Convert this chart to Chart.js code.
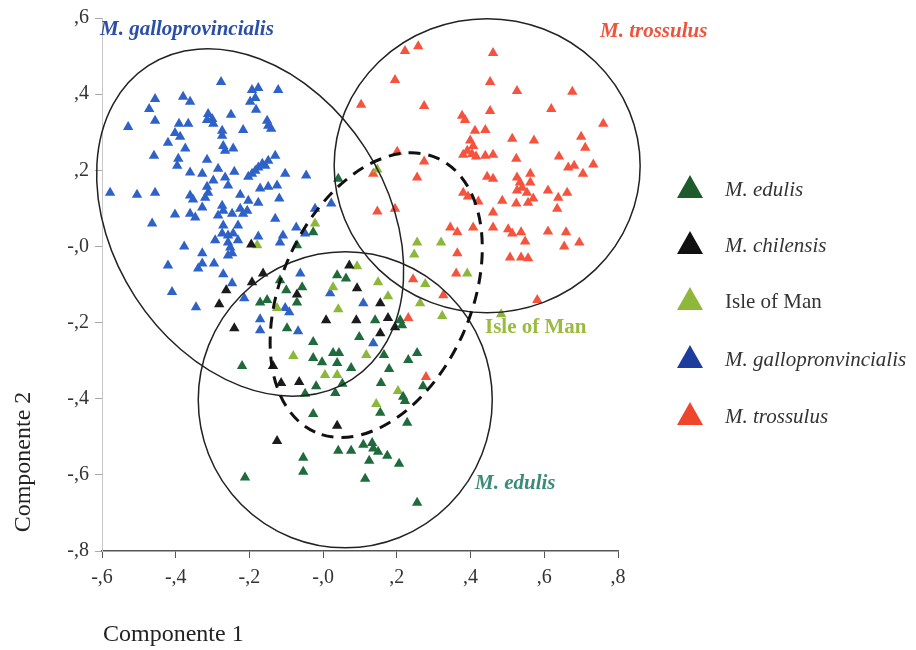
<!DOCTYPE html>
<html>
<head>
<meta charset="utf-8">
<script src="https://cdn.jsdelivr.net/npm/chart.js@4.4.0/dist/chart.umd.min.js"></script>
<style>
  body { margin: 0; background: #fff; }
  #wrap { width: 916px; height: 650px; }
</style>
</head>
<body>
<div id="wrap"><canvas id="pcaChart" width="916" height="650"></canvas></div>
<script>
// series names (legend order)
var seriesNames = ['M. edulis', 'M. chilensis', 'Isle of Man', 'M. gallopronvincialis', 'M. trossulus'];
var pointColors = ['#1f6b3c', '#1b1b1b', '#8cb83a', '#2e62c8', '#f5533d'];
var legendColors = ['#1d5a2c', '#111111', '#8fb83b', '#1e3c9c', '#f0452d'];

var xTicks = [-0.6, -0.4, -0.2, 0, 0.2, 0.4, 0.6, 0.8];
var yTicks = [-0.8, -0.6, -0.4, -0.2, 0, 0.2, 0.4, 0.6];

// M. edulis  [componente 1, componente 2]
var edulis = [
  [0.041,0.178],[-0.027,0.037],[-0.071,0.003],[-0.117,-0.089],[-0.100,-0.115],[0.038,-0.076],
  [0.062,-0.084],[-0.057,-0.107],[-0.071,-0.147],[-0.171,-0.147],[-0.152,-0.141],[-0.098,-0.215],
  [-0.027,-0.251],[-0.220,-0.314],[0.098,-0.238],[0.141,-0.194],[0.209,-0.194],[0.214,-0.207],
  [0.027,-0.280],[0.043,-0.280],[-0.027,-0.293],[-0.003,-0.304],[0.038,-0.306],[0.076,-0.319],
  [0.165,-0.285],[0.179,-0.322],[0.255,-0.280],[0.231,-0.298],[0.157,-0.359],[0.052,-0.361],
  [-0.019,-0.367],[-0.049,-0.387],[0.033,-0.385],[0.217,-0.395],[0.222,-0.406],[0.271,-0.367],
  [-0.027,-0.440],[0.155,-0.437],[0.228,-0.463],[0.041,-0.537],[0.076,-0.537],[0.109,-0.521],
  [0.133,-0.516],[0.136,-0.531],[0.149,-0.539],[0.174,-0.550],[0.125,-0.563],[0.206,-0.571],
  [0.114,-0.610],[-0.054,-0.555],[-0.054,-0.592],[-0.212,-0.607],[0.255,-0.673]
];

// M. chilensis
var chilensis = [
  [-0.195,0.005],[-0.193,-0.094],[-0.263,-0.115],[-0.282,-0.152],[-0.241,-0.215],[-0.163,-0.071],
  [0.071,-0.050],[0.092,-0.110],[-0.071,-0.126],[0.155,-0.149],[0.008,-0.194],[0.090,-0.194],
  [0.176,-0.188],[0.155,-0.228],[0.195,-0.212],[-0.136,-0.314],[-0.114,-0.359],[-0.065,-0.356],
  [0.038,-0.471],[-0.125,-0.511]
];

// Isle of Man
var isleOfMan = [
  [0.147,0.202],[0.255,0.010],[0.320,0.010],[0.247,-0.021],[-0.179,0.003],[0.092,-0.052],
  [0.149,-0.094],[0.277,-0.099],[0.391,-0.071],[0.176,-0.131],[0.263,-0.149],[0.323,-0.183],
  [0.041,-0.165],[0.027,-0.107],[-0.125,-0.162],[-0.081,-0.288],[0.117,-0.285],[0.005,-0.338],
  [0.038,-0.338],[0.144,-0.414],[0.203,-0.380],[0.483,-0.178],[-0.022,0.060]
];

// M. galloprovincialis
var galloprovincialis = [
  [-0.277,0.432],[-0.193,0.411],[-0.176,0.416],[-0.184,0.390],[-0.198,0.380],[-0.122,0.411],
  [-0.456,0.387],[-0.380,0.393],[-0.361,0.380],[-0.472,0.361],[-0.182,0.359],[-0.312,0.348],
  [-0.301,0.335],[-0.315,0.332],[-0.298,0.322],[-0.250,0.346],[-0.456,0.330],[-0.529,0.314],
  [-0.391,0.322],[-0.366,0.322],[-0.152,0.330],[-0.149,0.317],[-0.141,0.309],[-0.217,0.306],
  [-0.402,0.298],[-0.388,0.288],[-0.274,0.304],[-0.274,0.291],[-0.421,0.272],[-0.271,0.264],
  [-0.266,0.251],[-0.244,0.257],[-0.374,0.257],[-0.459,0.238],[-0.130,0.238],[-0.149,0.225],
  [-0.165,0.217],[-0.176,0.207],[-0.184,0.199],[-0.193,0.191],[-0.203,0.183],[-0.157,0.212],
  [-0.393,0.230],[-0.396,0.212],[-0.315,0.228],[-0.361,0.194],[-0.328,0.191],[-0.285,0.204],
  [-0.266,0.181],[-0.241,0.196],[-0.103,0.191],[-0.046,0.186],[-0.298,0.173],[-0.258,0.160],
  [-0.315,0.157],[-0.312,0.141],[-0.320,0.128],[-0.578,0.141],[-0.505,0.136],[-0.456,0.141],
  [-0.171,0.152],[-0.149,0.157],[-0.125,0.160],[-0.225,0.136],[-0.361,0.134],[-0.353,0.123],
  [-0.203,0.120],[-0.176,0.115],[-0.119,0.126],[-0.328,0.102],[-0.274,0.107],[-0.271,0.094],
  [-0.225,0.099],[-0.206,0.094],[-0.217,0.086],[-0.247,0.086],[-0.402,0.084],[-0.361,0.086],
  [-0.347,0.076],[-0.285,0.081],[-0.130,0.073],[-0.464,0.060],[-0.271,0.055],[-0.231,0.055],
  [-0.274,0.034],[-0.258,0.029],[-0.244,0.034],[-0.293,0.016],[-0.231,0.016],[-0.258,0.010],
  [-0.176,0.026],[-0.109,0.029],[-0.117,0.010],[-0.073,0.050],[-0.022,0.099],[0.022,0.113],
  [-0.049,0.034],[-0.377,0.000],[-0.328,-0.018],[-0.252,-0.003],[-0.247,-0.018],[-0.421,-0.050],
  [-0.328,-0.045],[-0.339,-0.058],[-0.296,-0.045],[-0.271,-0.073],[-0.247,-0.097],[-0.410,-0.120],
  [-0.345,-0.160],[-0.214,-0.136],[-0.258,-0.024],[-0.171,-0.191],[-0.171,-0.220],[-0.103,-0.162],
  [-0.092,-0.173],[-0.062,-0.071],[-0.068,-0.223],[0.019,-0.123],[0.109,-0.149],[0.136,-0.254]
];

// M. trossulus
var trossulus = [
  [0.222,0.513],[0.258,0.526],[0.461,0.508],[0.195,0.437],[0.453,0.432],[0.526,0.408],
  [0.676,0.406],[0.103,0.372],[0.274,0.369],[0.453,0.356],[0.619,0.361],[0.760,0.322],
  [0.377,0.343],[0.385,0.332],[0.412,0.304],[0.440,0.306],[0.513,0.283],[0.572,0.278],
  [0.700,0.288],[0.711,0.259],[0.399,0.278],[0.391,0.251],[0.407,0.264],[0.404,0.243],
  [0.380,0.241],[0.415,0.236],[0.440,0.238],[0.461,0.241],[0.524,0.230],[0.640,0.236],
  [0.665,0.207],[0.681,0.212],[0.733,0.215],[0.705,0.191],[0.445,0.183],[0.461,0.178],
  [0.526,0.181],[0.534,0.168],[0.562,0.191],[0.540,0.154],[0.562,0.168],[0.526,0.147],
  [0.553,0.141],[0.570,0.126],[0.556,0.115],[0.610,0.147],[0.662,0.141],[0.638,0.128],
  [0.635,0.099],[0.380,0.141],[0.393,0.131],[0.421,0.118],[0.486,0.120],[0.524,0.113],
  [0.461,0.089],[0.201,0.249],[0.274,0.223],[0.255,0.181],[0.136,0.191],[0.195,0.099],
  [0.147,0.092],[0.345,0.050],[0.364,0.037],[0.407,0.050],[0.461,0.050],[0.502,0.045],
  [0.513,0.034],[0.537,0.037],[0.548,0.013],[0.610,0.039],[0.659,0.037],[0.654,0.000],
  [0.695,0.010],[0.364,-0.018],[0.507,-0.029],[0.537,-0.029],[0.556,-0.031],[0.361,-0.071],
  [0.244,-0.086],[0.326,-0.128],[0.231,-0.188],[0.581,-0.141],[0.279,-0.343]
];

var allSeries = [edulis, chilensis, isleOfMan, galloprovincialis, trossulus];

// group ellipses: centre in data units, semi axes in px, rotation in degrees
var ellipses = [
  { cx: -0.198, cy: 0.063, a: 187, b: 137, rot: 57, dashed: false },
  { cx: 0.445, cy: 0.212, a: 153, b: 147, rot: 0, dashed: false },
  { cx: 0.060, cy: -0.403, a: 147, b: 148, rot: 0, dashed: false },
  { cx: 0.144, cy: -0.128, a: 150, b: 95, rot: 114, dashed: true }
];

function tickFmt(v) {
  var d = Math.round(Math.abs(v) * 10);
  return (v <= 0.0001 ? '-' : '') + ',' + d;
}

var serif = "'Liberation Serif', 'Times New Roman', serif";

const decorPlugin = {
  id: 'decor',
  afterDatasetsDraw(chart) {
    const ctx = chart.ctx;
    const xs = chart.scales.x, ys = chart.scales.y;
    ctx.save();
    // ellipses
    ellipses.forEach(function (e) {
      ctx.beginPath();
      ctx.ellipse(xs.getPixelForValue(e.cx), ys.getPixelForValue(e.cy), e.a, e.b, e.rot * Math.PI / 180, 0, Math.PI * 2);
      if (e.dashed) {
        ctx.setLineDash([12, 8]);
        ctx.lineWidth = 3;
        ctx.strokeStyle = '#111';
      } else {
        ctx.setLineDash([]);
        ctx.lineWidth = 1.5;
        ctx.strokeStyle = '#222';
      }
      ctx.stroke();
    });
    ctx.setLineDash([]);

    // group labels
    ctx.textBaseline = 'alphabetic';
    ctx.textAlign = 'left';
    ctx.font = 'italic bold 21px ' + serif;
    ctx.fillStyle = '#2b4fa8';
    ctx.fillText('M. galloprovincialis', 100, 35);
    ctx.fillStyle = '#f0523a';
    ctx.fillText('M. trossulus', 600, 37);
    ctx.fillStyle = '#3a8c7a';
    ctx.fillText('M. edulis', 475, 489);
    ctx.font = 'bold 21px ' + serif;
    ctx.fillStyle = '#9bbb3e';
    ctx.fillText('Isle of Man', 485, 333);

    // legend
    var ly = [188, 244, 300, 358, 415];
    for (var i = 0; i < seriesNames.length; i++) {
      var cx = 690, cy = ly[i];
      ctx.beginPath();
      ctx.moveTo(cx, cy - 13);
      ctx.lineTo(cx + 13, cy + 10);
      ctx.lineTo(cx - 13, cy + 10);
      ctx.closePath();
      ctx.fillStyle = legendColors[i];
      ctx.fill();
      ctx.fillStyle = '#333';
      ctx.font = (i === 2 ? '' : 'italic ') + '21px ' + serif;
      ctx.fillText(seriesNames[i], 725, cy + 8);
    }

    // axis titles
    ctx.fillStyle = '#222';
    ctx.font = '24px ' + serif;
    ctx.fillText('Componente 1', 103, 641);
    ctx.translate(30, 462);
    ctx.rotate(-Math.PI / 2);
    ctx.textAlign = 'center';
    ctx.fillText('Componente 2', 0, 0);
    ctx.restore();
  }
};

const ctx = document.getElementById('pcaChart').getContext('2d');
const pcaChart = new Chart(ctx, {
  type: 'scatter',
  data: {
    datasets: allSeries.map(function (s, i) {
      return {
        label: seriesNames[i],
        data: s.map(function (p) { return { x: p[0], y: p[1] }; }),
        pointStyle: 'triangle',
        pointRadius: 6,
        pointBorderWidth: 0,
        backgroundColor: pointColors[i],
        borderColor: pointColors[i]
      };
    })
  },
  options: {
    responsive: false,
    animation: false,
    devicePixelRatio: 1,
    layout: { padding: { top: 17, right: 298, left: 0, bottom: 0 } },
    plugins: {
      legend: { display: false },
      tooltip: { enabled: false }
    },
    scales: {
      x: {
        type: 'linear',
        min: -0.6,
        max: 0.8,
        afterBuildTicks: function (scale) { scale.ticks = xTicks.map(function (v) { return { value: v }; }); },
        afterFit: function (scale) { scale.height = 99; },
        ticks: {
          callback: tickFmt,
          color: '#333',
          padding: 8,
          font: { family: serif, size: 20 }
        },
        grid: { drawOnChartArea: false, drawTicks: true, tickLength: 7, color: '#555' },
        border: { color: '#555', width: 1.5 }
      },
      y: {
        type: 'linear',
        min: -0.8,
        max: 0.6,
        afterBuildTicks: function (scale) { scale.ticks = yTicks.map(function (v) { return { value: v }; }); },
        afterFit: function (scale) { scale.width = 102; },
        ticks: {
          callback: tickFmt,
          color: '#333',
          padding: 6,
          font: { family: serif, size: 20 }
        },
        grid: { drawOnChartArea: false, drawTicks: true, tickLength: 7, color: '#aaa' },
        border: { color: '#c8c8c8', width: 1 }
      }
    }
  },
  plugins: [decorPlugin]
});
</script>
</body>
</html>
